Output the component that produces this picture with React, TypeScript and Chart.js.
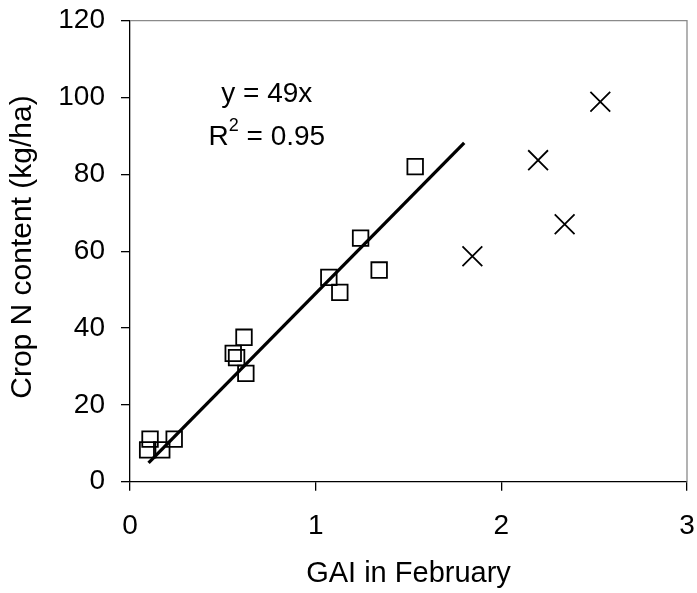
import React, { useEffect, useRef } from 'react';
import { Chart, registerables } from 'chart.js';

Chart.register(...registerables);

// Squares (GAI, crop N)
const squareGAI = [0.108, 0.238, 0.095, 0.171, 0.614, 0.556, 0.574, 0.624, 1.536, 1.242, 1.071, 1.13, 1.342];
const squareN = [11.1, 11.1, 8.3, 8.3, 37.6, 33.4, 32.3, 28.2, 82.0, 63.4, 53.2, 49.3, 55.1];
// Crosses (GAI, crop N)
const crossGAI = [2.533, 2.198, 2.341, 1.844];
const crossN = [98.9, 83.7, 67.0, 58.7];
// Fitted line y = 49x endpoints
const fitGAI = [0.1, 1.8];
const fitN = [4.9, 88.2];

const xTickValues = [0, 1, 2, 3];
const yTickValues = [0, 20, 40, 60, 80, 100, 120];

const equationText = 'y = 49x';
const r2Label = 'R';
const r2Sup = '2';
const r2Value = ' = 0.95';

const FONT = "'Liberation Sans', Arial, sans-serif";

const framePlugin = {
  id: 'frame',
  beforeDatasetsDraw(chart: any) {
    const { ctx, chartArea } = chart;
    ctx.save();
    ctx.strokeStyle = '#8a8a8a';
    ctx.lineWidth = 1.3;
    ctx.beginPath();
    ctx.moveTo(chartArea.left, chartArea.top);
    ctx.lineTo(chartArea.right, chartArea.top);
    ctx.lineTo(chartArea.right, chartArea.bottom);
    ctx.stroke();
    ctx.restore();
  },
};

const equationPlugin = {
  id: 'equation',
  afterDatasetsDraw(chart: any) {
    const { ctx, scales } = chart;
    const cx = scales.x.getPixelForValue(0.737);
    const y1 = scales.y.getPixelForValue(100.9);
    const y2 = scales.y.getPixelForValue(89.7);
    ctx.save();
    ctx.fillStyle = '#000';
    ctx.textBaseline = 'middle';
    ctx.font = `28px ${FONT}`;
    ctx.textAlign = 'center';
    ctx.fillText(equationText, cx, y1);
    const wR = ctx.measureText(r2Label).width;
    const wV = ctx.measureText(r2Value).width;
    ctx.font = `18px ${FONT}`;
    const wS = ctx.measureText(r2Sup).width;
    const total = wR + wS + wV;
    let x = cx - total / 2;
    ctx.textAlign = 'left';
    ctx.font = `28px ${FONT}`;
    ctx.fillText(r2Label, x, y2);
    x += wR;
    ctx.font = `18px ${FONT}`;
    ctx.fillText(r2Sup, x, y2 - 11);
    x += wS;
    ctx.font = `28px ${FONT}`;
    ctx.fillText(r2Value, x, y2);
    ctx.restore();
  },
};

export default function App() {
  const ref = useRef<HTMLCanvasElement | null>(null);

  useEffect(() => {
    if (!ref.current) return;
    const squares = squareGAI.map((x, i) => ({ x, y: squareN[i] }));
    const crosses = crossGAI.map((x, i) => ({ x, y: crossN[i] }));
    const fit = fitGAI.map((x, i) => ({ x, y: fitN[i] }));

    const chart = new Chart(ref.current, {
      type: 'scatter',
      data: {
        datasets: [
          {
            label: 'fit',
            data: fit,
            showLine: true,
            borderColor: '#000',
            borderWidth: 3.3,
            pointRadius: 0,
            fill: false,
          } as any,
          {
            label: 'squares',
            data: squares,
            pointStyle: 'rect',
            pointRadius: 11,
            borderColor: '#000',
            backgroundColor: 'rgba(0,0,0,0)',
            borderWidth: 1.8,
          },
          {
            label: 'crosses',
            data: crosses,
            pointStyle: 'crossRot',
            pointRadius: 14,
            borderColor: '#000',
            backgroundColor: '#000',
            borderWidth: 1.8,
          },
        ],
      },
      options: {
        responsive: false,
        animation: false,
        devicePixelRatio: 1,
        layout: { autoPadding: false, padding: { top: 20.7, right: 10, left: 0, bottom: 0 } },
        plugins: {
          legend: { display: false },
          tooltip: { enabled: false },
        },
        scales: {
          x: {
            type: 'linear',
            min: 0,
            max: 3,
            afterFit(scale: any) {
              scale.height = 111.3;
              scale.paddingLeft = 0;
              scale.paddingRight = 0;
            },
            afterBuildTicks(scale: any) {
              scale.ticks = xTickValues.map((v) => ({ value: v }));
            },
            ticks: {
              color: '#000',
              font: { size: 28, family: FONT },
              padding: 19,
              maxRotation: 0,
            },
            grid: {
              display: true,
              drawOnChartArea: false,
              drawTicks: true,
              tickLength: 9,
              color: '#000',
              lineWidth: 1.3,
            },
            border: { display: true, color: '#000', width: 1.3 },
            title: {
              display: true,
              text: 'GAI in February',
              color: '#000',
              font: { size: 29, family: FONT },
              padding: { top: 0, bottom: 1.6 },
            },
          },
          y: {
            type: 'linear',
            min: 0,
            max: 120,
            afterFit(scale: any) {
              scale.width = 130;
              scale.paddingTop = 0;
              scale.paddingBottom = 0;
            },
            afterBuildTicks(scale: any) {
              scale.ticks = yTickValues.map((v) => ({ value: v }));
            },
            ticks: {
              color: '#000',
              font: { size: 28, family: FONT },
              padding: 16,
            },
            grid: {
              display: true,
              drawOnChartArea: false,
              drawTicks: true,
              tickLength: 9,
              color: '#000',
              lineWidth: 1.3,
            },
            border: { display: true, color: '#000', width: 1.3 },
            title: {
              display: true,
              text: ' Crop N content (kg/ha)',
              color: '#000',
              font: { size: 30, family: FONT },
              padding: { top: 4.5, bottom: 0 },
            },
          },
        },
      },
      plugins: [framePlugin, equationPlugin],
    });
    return () => chart.destroy();
  }, []);

  return (
    <div style={{ position: 'absolute', left: 0, top: 0, width: 697, height: 593, background: '#fff' }}>
      <canvas ref={ref} width={697} height={593} style={{ width: 697, height: 593, display: 'block' }} />
    </div>
  );
}
